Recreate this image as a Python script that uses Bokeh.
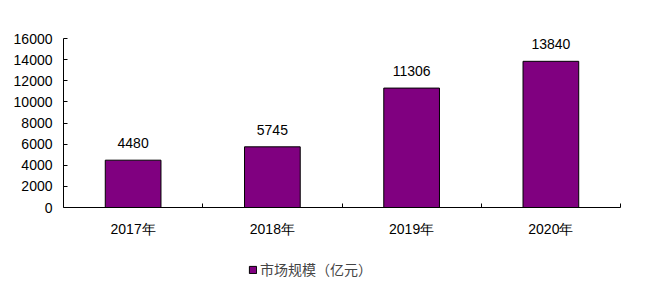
from bokeh.plotting import figure
from bokeh.layouts import column
from bokeh.core.properties import value
from bokeh.models import (ColumnDataSource, FixedTicker, LabelSet,
                          Legend, LegendItem, Range1d)
from bokeh.embed import file_html
from bokeh.resources import INLINE

categories = ["2017年", "2018年", "2019年", "2020年"]
values = [4480, 5745, 11306, 13840]
y_ticks = [0, 2000, 4000, 6000, 8000, 10000, 12000, 14000, 16000]
series_name = "市场规模（亿元）"

bar_color = "#800080"
font = "Liberation Sans"

xpos = [i + 0.5 for i in range(len(categories))]
src = ColumnDataSource(dict(x=xpos, top=values, label=[str(v) for v in values]))

p = figure(width=647, height=251, output_backend="svg", toolbar_location=None,
           x_range=Range1d(0, len(categories)), y_range=Range1d(0, 16000),
           min_border_left=63, min_border_right=27, min_border_top=38, min_border_bottom=44)
p.outline_line_color = None
p.xgrid.visible = False
p.ygrid.visible = False
p.background_fill_color = "white"
p.border_fill_color = "white"

r = p.vbar(x="x", top="top", width=0.4, bottom=0, source=src,
           fill_color=bar_color, line_color="black", line_width=1)

p.yaxis.ticker = FixedTicker(ticks=y_ticks)
p.yaxis.major_tick_in = 4
p.yaxis.major_tick_out = 0
p.yaxis.minor_tick_line_color = None
p.yaxis.major_label_standoff = 11
p.yaxis.major_label_text_font = font
p.yaxis.major_label_text_font_size = "14px"
p.yaxis.major_label_text_color = "black"
p.yaxis.axis_line_color = "black"

p.xaxis.ticker = FixedTicker(ticks=xpos, minor_ticks=list(range(1, len(categories) + 1)))
p.xaxis.major_label_overrides = {x: c for x, c in zip(xpos, categories)}
p.xaxis.major_tick_in = 0
p.xaxis.major_tick_out = 0
p.xaxis.minor_tick_in = 4
p.xaxis.minor_tick_out = 0
p.xaxis.minor_tick_line_color = "black"
p.xaxis.major_label_standoff = 13
p.xaxis.major_label_text_font = font
p.xaxis.major_label_text_font_size = "14px"
p.xaxis.major_label_text_color = "black"
p.xaxis.axis_line_color = "black"

labels = LabelSet(x="x", y="top", text="label", source=src, y_offset=17,
                  text_align="center", text_baseline="middle",
                  text_font=value(font), text_font_size=value("14px"), text_color="black")
p.add_layout(labels)

# legend strip below the chart: a degenerate swatch bar placed far outside the view,
# so only its legend entry is visible
lf = figure(width=647, height=40, output_backend="svg", toolbar_location=None,
            x_axis_type=None, y_axis_type=None,
            x_range=Range1d(0, 1), y_range=Range1d(0, 1),
            min_border=0)
lf.outline_line_color = None
lf.xgrid.visible = False
lf.ygrid.visible = False
swatch = ColumnDataSource(dict(x=[-1000.0], top=[-1000.0], bottom=[-1000.0]))
lr = lf.vbar(x="x", top="top", bottom="bottom", width=0.0, source=swatch,
             fill_color=bar_color, line_color="black", line_width=1)
legend = Legend(items=[LegendItem(label=series_name, renderers=[lr])],
                location=(185, 12), padding=0, margin=0, border_line_color=None,
                background_fill_alpha=0, glyph_width=9, glyph_height=9,
                label_standoff=3, label_text_font_size="14px",
                label_text_font="Noto Sans CJK SC", label_height=14)
lf.add_layout(legend, "center")

layout = column(p, lf, spacing=0)
open("out.html", "w").write(file_html(layout, INLINE))
